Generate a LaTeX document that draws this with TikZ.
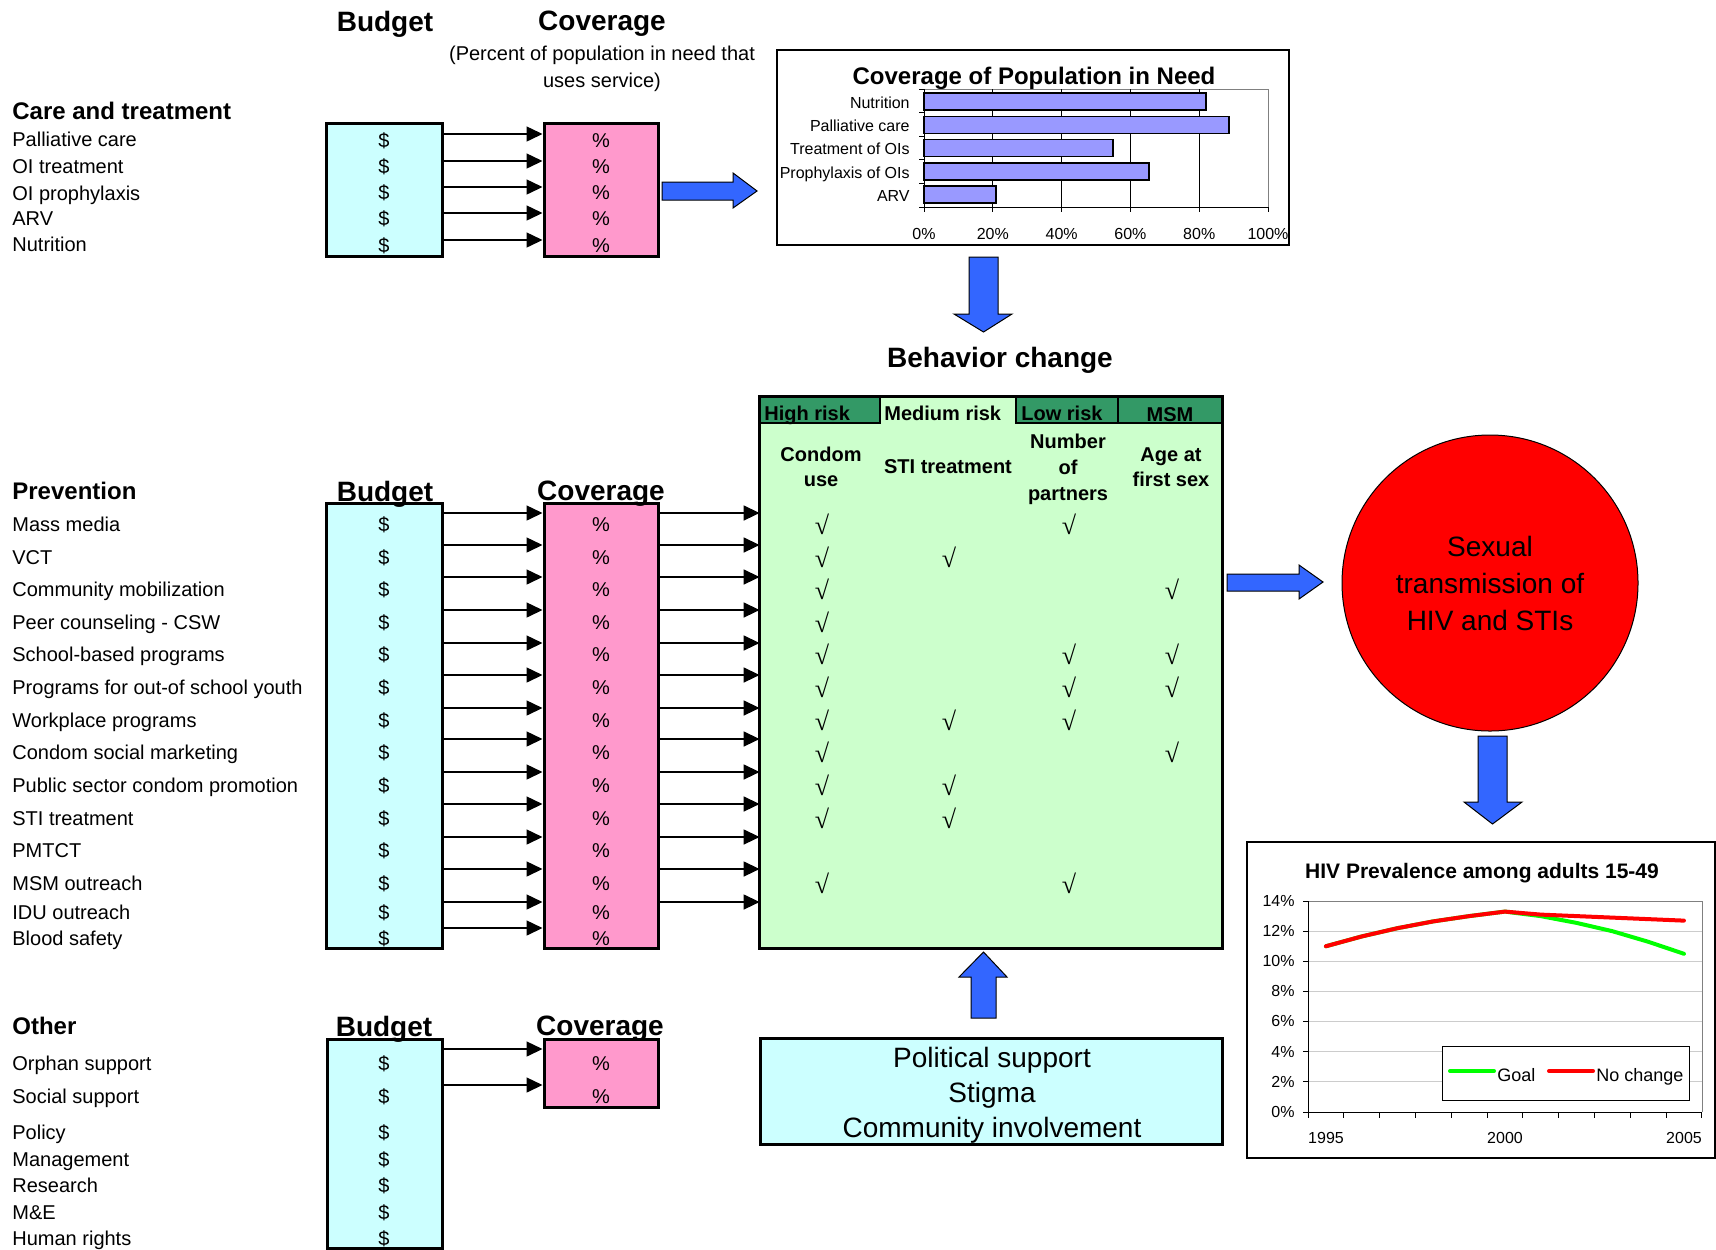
\documentclass[tikz,border=0pt]{standalone}
\usepackage{fontspec}
\setmainfont{Liberation Sans}
\newfontfamily\chkfont{Liberation Serif}
\usepackage{tikz}
\usetikzlibrary{arrows.meta,fit,calc}
\usepackage{xcolor}
\definecolor{budcyan}{HTML}{CCFFFF}
\definecolor{covpink}{HTML}{FF99CC}
\definecolor{bhvgreen}{HTML}{CCFFCC}
\definecolor{hdgreen}{HTML}{339966}
\definecolor{blkblue}{HTML}{3366FF}
\definecolor{barblue}{HTML}{9999FF}

\begin{document}
\begin{tikzpicture}[x=0.5pt,y=-0.5pt,
  lbl/.style={anchor=mid west,inner sep=0pt,yshift=-1pt,font=\fontsize{10}{12}\selectfont},
  grp/.style={anchor=mid west,inner sep=0pt,yshift=-1pt,font=\fontsize{12}{14}\selectfont\bfseries},
  colname/.style={inner sep=0pt,yshift=-1pt,font=\fontsize{14}{16}\selectfont\bfseries},
  val/.style={inner sep=0pt,yshift=-0.5pt,font=\fontsize{10}{12}\selectfont},
  hdr/.style={inner sep=0pt,font=\fontsize{10}{12.5}\selectfont\bfseries,align=center},
  ticklbl/.style={inner sep=0pt,font=\fontsize{8}{10}\selectfont},
  budbox/.style={draw,line width=1.5pt,fill=budcyan,inner sep=0pt},
  covbox/.style={draw,line width=1.5pt,fill=covpink,inner sep=0pt},
  flow/.style={-{Triangle[length=8pt,width=7.5pt]},line width=0.75pt},
  blockarrow/.style={draw=black,line width=0.5pt,fill=blkblue},
  chk/.style={inner sep=0pt,font=\chkfont\fontsize{13}{13}\selectfont},
  trend/.style={line width=2pt,line cap=round,line join=round}]
\useasboundingbox (0,0) rectangle (1716,1249);

% Column headings
\node[colname] (bud0) at (385,22) {Budget};
\node[colname] (cov0) at (602,22) {Coverage};
\node[inner sep=0pt,align=center,yshift=-1pt,font=\fontsize{10}{13.5}\selectfont] (covnote) at (602,67) {(Percent of population in need that\\uses service)};

% Care and treatment
\node[grp] (care) at (12,112) {Care and treatment};
\foreach \y/\t in {139/Palliative care,166/OI treatment,193/OI prophylaxis,218/ARV,244/Nutrition}
  \node[lbl] (c\y) at (12,\y) {\t};
\node[budbox,fit={(326,123) (442,256)}] (cbud) {};
\node[covbox,fit={(544,123) (658,256)}] (ccov) {};
\foreach \y in {140,166,192,218,245} {
  \node[val] (cd\y) at (384,\y) {\$};
  \node[val] (cp\y) at (601,\y) {\%};
}
\foreach \y in {134,161,187,213,240}
  \draw[flow] (cbud.east |- 0,\y) -- (ccov.west |- 0,\y);
\draw[blockarrow] (662,182) -- (733,182) -- (733,173) -- (757,191) -- (733,208) -- (733,200) -- (662,200) -- cycle;

% Coverage chart
\node[draw,line width=0.6pt,inner sep=0pt,fit={(777,50) (1289,245)}] (cchart) {};
\node[inner sep=0pt,yshift=-0.5pt,font=\fontsize{12}{14}\selectfont\bfseries] (ctitle) at (1034,77) {Coverage of Population in Need};
\draw[gray] (924,89) -- (1268,89) -- (1268,207);
\foreach \i in {1,...,4}
  \draw (924+68.8*\i,89) -- (924+68.8*\i,207);
\foreach \v/\n [count=\k] in {82/Nutrition,88.7/Palliative care,55/Treatment of OIs,65.4/Prophylaxis of OIs,21/ARV} {
  \draw[fill=barblue,line width=0.8pt] (924,93+23.3*\k-23.3) rectangle (924+3.44*\v,110+23.3*\k-23.3);
  \node[ticklbl,anchor=mid east] (cl\k) at (910,103+23.3*\k-23.3) {\n};
}
\draw (924,89) -- (924,207) -- (1268,207);
\foreach \i in {0,...,5} {
  \draw (919,89+23.6*\i) -- (924,89+23.6*\i);
  \draw (924+68.8*\i,207) -- (924+68.8*\i,212);
  \node[ticklbl] (cx\i) at (924+68.8*\i,234) {\the\numexpr20*\i\relax\%};
}
\draw[blockarrow] (969,257) -- (998,257) -- (998,314) -- (1012,314) -- (983.5,332) -- (954,314) -- (969,314) -- cycle;
\node[colname] (bhv) at (1000,358) {Behavior change};

% Behavior change table
\node[fill=bhvgreen,inner sep=0pt,fit={(760,397) (1222,948)}] (bcbox) {};
\draw[fill=hdgreen,line width=0.8pt] (760,397) rectangle (880,423);
\draw[line width=0.8pt] (1016,397) -- (1016,423);
\draw[fill=hdgreen,line width=0.8pt] (1016,397) rectangle (1118,423);
\draw[fill=hdgreen,line width=0.8pt] (1118,397) rectangle (1222,423);
\draw[line width=1.5pt] (bcbox.north west) rectangle (bcbox.south east);
\node[hdr,anchor=mid west] (hrisk) at (764,415) {High risk};
\node[hdr,anchor=mid west] (mrisk) at (884,415) {Medium risk};
\node[hdr,anchor=mid west] (lrisk) at (1021,415) {Low risk};
\node[hdr] (msm) at (1170,415) {MSM};
\node[hdr] (condom) at (821,467) {Condom\\use};
\node[hdr] (stitr) at (948,467) {STI treatment};
\node[hdr,font=\fontsize{10}{13}\selectfont\bfseries] (npart) at (1068,469) {Number\\of\\partners};
\node[hdr] (agesex) at (1171,467) {Age at\\first sex};
\foreach \y/\cols in {524/{822,1069},557/{822,949},589/{822,1172},622/{822},654/{822,1069,1172},687/{822,1069,1172},720/{822,949,1069},752/{822,1172},785/{822,949},818/{822,949},883/{822,1069}}
  \foreach \x in \cols
    \node[chk] (k\x\y) at (\x,\y) {√};

% Prevention
\node[grp] (prev) at (12,492) {Prevention};
\node[budbox,fit={(326,503) (442,948)}] (pbud) {};
\node[covbox,fit={(544,503) (658,948)}] (pcov) {};
\node[colname] (bud1) at (385,492) {Budget};
\node[colname] (cov1) at (601,492) {Coverage};
\foreach \y/\t in {524/Mass media,557/VCT,589/Community mobilization,622/Peer counseling - CSW,654/School-based programs,687/Programs for out-of school youth,720/Workplace programs,752/Condom social marketing,785/Public sector condom promotion,818/STI treatment,850/PMTCT,883/MSM outreach,912/IDU outreach,938/Blood safety} {
  \node[lbl] (p\y) at (12,\y) {\t};
  \node[val] (pd\y) at (384,\y) {\$};
  \node[val] (pp\y) at (601,\y) {\%};
}
\foreach \y in {513,545,577,610,643,675,708,739,772,804,837,869,902,928}
  \draw[flow] (pbud.east |- 0,\y) -- (pcov.west |- 0,\y);
\foreach \y in {513,545,577,610,643,675,708,739,772,804,837,869,902}
  \draw[flow] (pcov.east |- 0,\y) -- (bcbox.west |- 0,\y);

% Outcome
\draw[blockarrow] (1227,574) -- (1299,574) -- (1299,565) -- (1323,582) -- (1299,599) -- (1299,591) -- (1227,591) -- cycle;
\node[circle,draw,fill=red,line width=0.5pt,minimum size=148pt,inner sep=0pt,align=center,font=\fontsize{14}{18.5}\selectfont] (sti) at (1490,583) {Sexual\\transmission of\\HIV and STIs};
\draw[blockarrow] (1478,736) -- (1507,736) -- (1507,802) -- (1522,802) -- (1492.5,824) -- (1464,802) -- (1478,802) -- cycle;

% Prevalence chart
\node[draw,line width=0.6pt,inner sep=0pt,fit={(1247,842) (1715,1158)}] (hchart) {};
\node[inner sep=0pt,font=\fontsize{10.5}{12}\selectfont\bfseries] (htitle) at (1482,873) {HIV Prevalence among adults 15-49};
\foreach \i in {0,...,7} {
  \draw[black!20] (1308,1112-30.14*\i) -- (1702,1112-30.14*\i);
  \draw (1303,1112-30.14*\i) -- (1308,1112-30.14*\i);
  \node[ticklbl,anchor=mid east] (hy\i) at (1295,1112-30.14*\i) {\the\numexpr2*\i\relax\%};
}
\draw[gray] (1308,901) -- (1702,901) -- (1702,1112);
\draw (1308,901) -- (1308,1112) -- (1702,1112);
\foreach \i in {0,...,11}
  \draw (1308+35.8*\i,1112) -- (1308+35.8*\i,1118);
\node[ticklbl] (h1995) at (1326,1138) {1995};
\node[ticklbl] (h2000) at (1505,1138) {2000};
\node[ticklbl] (h2005) at (1684,1138) {2005};
\begin{scope}[shift={(1325.9,1112)},x=17.9pt,y=7.535pt]
  \draw[trend,green] plot coordinates {(0,11.0) (1,11.65) (2,12.2) (3,12.65) (4,13.0) (5,13.3) (6,13.0) (7,12.55) (8,12.0) (9,11.3) (10,10.5)};
  \draw[trend,red] plot coordinates {(0,11.0) (1,11.65) (2,12.2) (3,12.65) (4,13.0) (5,13.3) (6,13.1) (7,13.0) (8,12.9) (9,12.8) (10,12.7)};
\end{scope}
\node[draw,fill=white,line width=0.5pt,inner sep=0pt,fit={(1442,1046) (1689,1100)}] (hleg) {};
\draw[trend,green] (1450,1071) -- (1494,1071);
\node[inner sep=0pt,anchor=mid west,font=\fontsize{9}{11}\selectfont] (lgoal) at (1497,1076) {Goal};
\draw[trend,red] (1549,1071) -- (1593,1071);
\node[inner sep=0pt,anchor=mid west,font=\fontsize{9}{11}\selectfont] (lnochg) at (1596,1076) {No change};

% Context
\draw[blockarrow] (971,1018) -- (996,1018) -- (996,977) -- (1007,977) -- (983.5,952) -- (959,977) -- (971,977) -- cycle;
\node[draw,line width=1.5pt,fill=budcyan,inner sep=0pt,fit={(760,1038) (1222,1144)}] (pol) {};
\node[inner sep=0pt,align=center,font=\fontsize{14}{17.5}\selectfont] (poltxt) at (992,1095) {Political support\\Stigma\\Community involvement};

% Other
\node[grp] (oth) at (12,1027) {Other};
\node[budbox,fit={(327,1039) (442,1248)}] (obud) {};
\node[covbox,fit={(544,1039) (658,1107)}] (ocov) {};
\node[colname] (bud2) at (384,1027) {Budget};
\node[colname] (cov2) at (600,1027) {Coverage};
\foreach \y/\t in {1063/Orphan support,1096/Social support,1132/Policy,1159/Management,1185/Research,1212/M\&E,1238/Human rights} {
  \node[lbl] (o\y) at (12,\y) {\t};
  \node[val] (od\y) at (384,\y) {\$};
}
\node[val] (op1063) at (601,1063) {\%};
\node[val] (op1096) at (601,1096) {\%};
\foreach \y in {1049,1085}
  \draw[flow] (obud.east |- 0,\y) -- (ocov.west |- 0,\y);
\end{tikzpicture}
\end{document}
